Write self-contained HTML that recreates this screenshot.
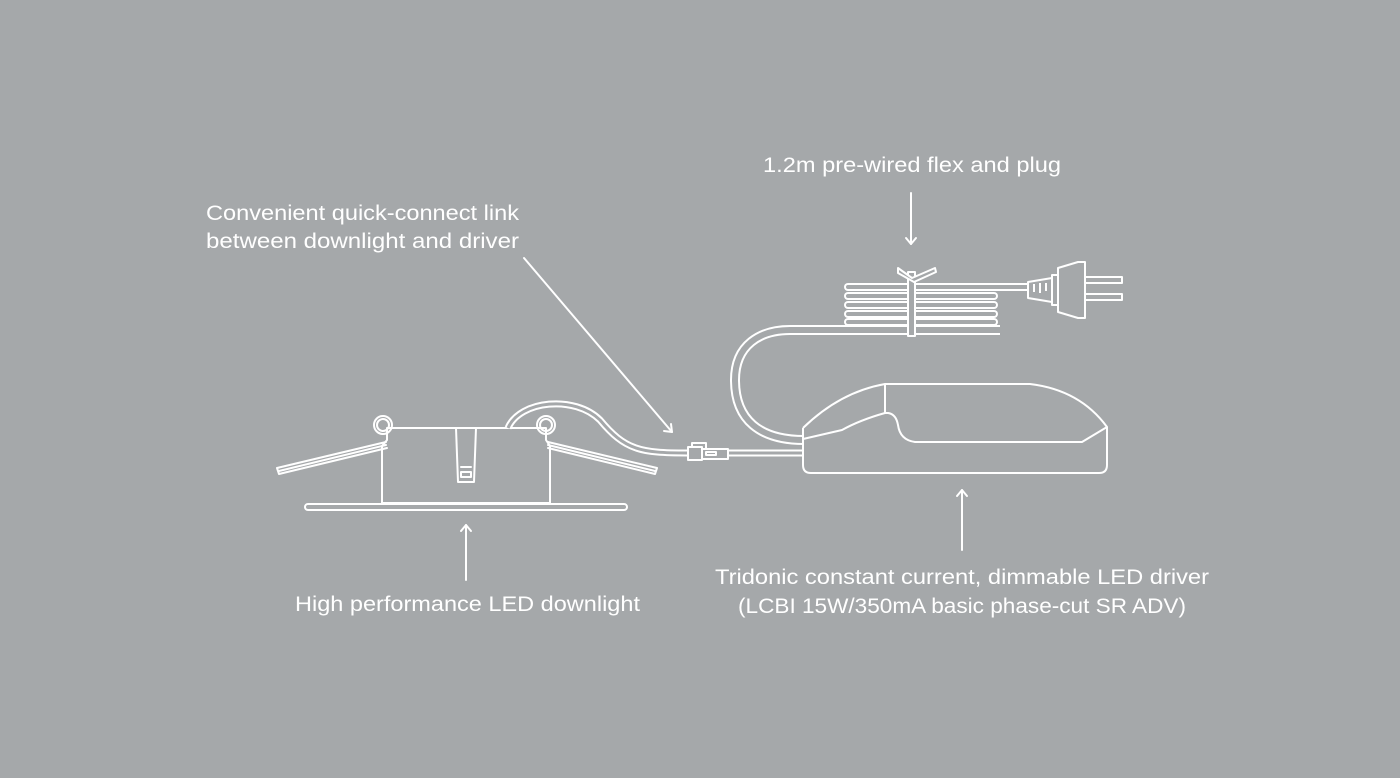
<!DOCTYPE html>
<html><head><meta charset="utf-8"><style>
html,body{margin:0;padding:0;background:#a5a8aa;}
svg{display:block}
text{font-family:"Liberation Sans",sans-serif;fill:#fff;font-size:21px;}
</style></head><body>
<svg width="1400" height="778" viewBox="0 0 1400 778" xmlns="http://www.w3.org/2000/svg">
<rect width="1400" height="778" fill="#a5a8aa"/>
<g fill="none" stroke="#fff" stroke-width="2" stroke-linejoin="round" stroke-linecap="round">
<!-- labels arrows -->
<line x1="911" y1="193" x2="911" y2="244"/><polyline points="906,238 911,244 916,238"/>
<line x1="524" y1="258" x2="672" y2="432"/><polyline points="664,431 672,432 671,424"/>
<line x1="466" y1="580" x2="466" y2="525"/><polyline points="461,531 466,525 471,531"/>
<line x1="962" y1="550" x2="962" y2="490"/><polyline points="957,496 962,490 967,496"/>

<!-- downlight -->
<rect x="305" y="504" width="322" height="6" rx="3"/>
<path d="M387,428 L546,428 L546,440 L550,446 L550,503 L382,503 L382,446 L387,440 Z"/>
<path d="M456,428 L458,482 L474,482 L476,428"/>
<line x1="461" y1="467" x2="471" y2="467"/><rect x="461" y="472" width="10" height="5"/>
<circle cx="383" cy="425" r="9"/><circle cx="383" cy="425" r="6"/>
<circle cx="546" cy="425" r="9"/><circle cx="546" cy="425" r="6"/>
<path d="M386,442 L277,468 L279,474 L387,448"/><line x1="386" y1="445" x2="279" y2="471"/>
<path d="M548,442 L657,468 L655,474 L548,448"/><line x1="548" y1="445" x2="655" y2="471"/>
</g>
<!-- cables double line -->
<g fill="none" stroke-linecap="butt">
<path id="c1" d="M508,428 C520,400 575,395 600,420 C625,450 640,453 688,453" stroke="#fff" stroke-width="7"/>
<path d="M508,428 C520,400 575,395 600,420 C625,450 640,453 688,453" stroke="#a5a8aa" stroke-width="3"/>
<path d="M728,453 L804,453" stroke="#fff" stroke-width="7"/>
<path d="M728,453 L804,453" stroke="#a5a8aa" stroke-width="3"/>
<path d="M804,440 C760,440 735,420 735,380 C735,345 760,330 790,330 L1000,330" stroke="#fff" stroke-width="10"/>
<path d="M804,440 C760,440 735,420 735,380 C735,345 760,330 790,330 L1000,330" stroke="#a5a8aa" stroke-width="6"/>
<g stroke="#fff" stroke-width="8" stroke-linecap="round">
<line x1="848" y1="287" x2="1030" y2="287"/>
<line x1="848" y1="296" x2="994" y2="296"/>
<line x1="848" y1="305" x2="994" y2="305"/>
<line x1="848" y1="314" x2="994" y2="314"/>
<line x1="848" y1="322" x2="994" y2="322"/>
</g>
<g stroke="#a5a8aa" stroke-width="4" stroke-linecap="round">
<line x1="848" y1="287" x2="1030" y2="287"/>
<line x1="848" y1="296" x2="994" y2="296"/>
<line x1="848" y1="305" x2="994" y2="305"/>
<line x1="848" y1="314" x2="994" y2="314"/>
<line x1="848" y1="322" x2="994" y2="322"/>
<line x1="850" y1="330" x2="994" y2="330"/>
</g>
</g>
<g fill="none" stroke="#fff" stroke-width="2" stroke-linejoin="round">
<!-- connector -->
<rect x="688" y="447" width="14" height="13" fill="#a5a8aa"/>
<rect x="702" y="449" width="26" height="10" fill="#a5a8aa"/>
<rect x="706" y="452" width="10" height="3"/>
<path d="M692,447 L692,443 L706,443 L706,449"/>
<!-- tie -->
<rect x="908" y="272" width="7" height="64" fill="#a5a8aa"/>
<path d="M898,268 L912,278 L935,268 L936,272 L914,282 L898,273 Z" fill="#a5a8aa"/>
<!-- plug -->
<path d="M1028,282 L1052,278 L1052,302 L1028,298 Z" fill="#a5a8aa"/>
<path d="M1034,284 v8 M1040,283 v10 M1046,283 v8"/>
<rect x="1052" y="275" width="6" height="30" fill="#a5a8aa"/>
<path d="M1058,268 L1078,262 L1085,262 L1085,318 L1078,318 L1058,312 Z" fill="#a5a8aa"/>
<rect x="1085" y="277" width="37" height="6"/>
<rect x="1085" y="294" width="37" height="6"/>
<!-- driver -->
<path d="M803,428 L803,465 Q803,473 811,473 L1099,473 Q1107,473 1107,465 L1107,427" fill="#a5a8aa"/>
<path d="M803,428 Q840,392 885,384 L1030,384 Q1080,390 1107,427 L1082,442 L915,442 Q900,440 898,425 Q896,414 888,413 L885,413 Q860,420 842,430 L803,439"/>
<line x1="885" y1="384" x2="885" y2="413"/>
</g>
<text x="763" y="172" textLength="298" lengthAdjust="spacingAndGlyphs">1.2m pre-wired flex and plug</text>
<text x="206" y="220" textLength="313" lengthAdjust="spacingAndGlyphs">Convenient quick-connect link</text>
<text x="206" y="248" textLength="313" lengthAdjust="spacingAndGlyphs">between downlight and driver</text>
<text x="295" y="611" textLength="345" lengthAdjust="spacingAndGlyphs">High performance LED downlight</text>
<text x="715" y="584" textLength="494" lengthAdjust="spacingAndGlyphs">Tridonic constant current, dimmable LED driver</text>
<text x="738" y="613" textLength="448" lengthAdjust="spacingAndGlyphs">(LCBI 15W/350mA basic phase-cut SR ADV)</text>
</svg>
</body></html>
